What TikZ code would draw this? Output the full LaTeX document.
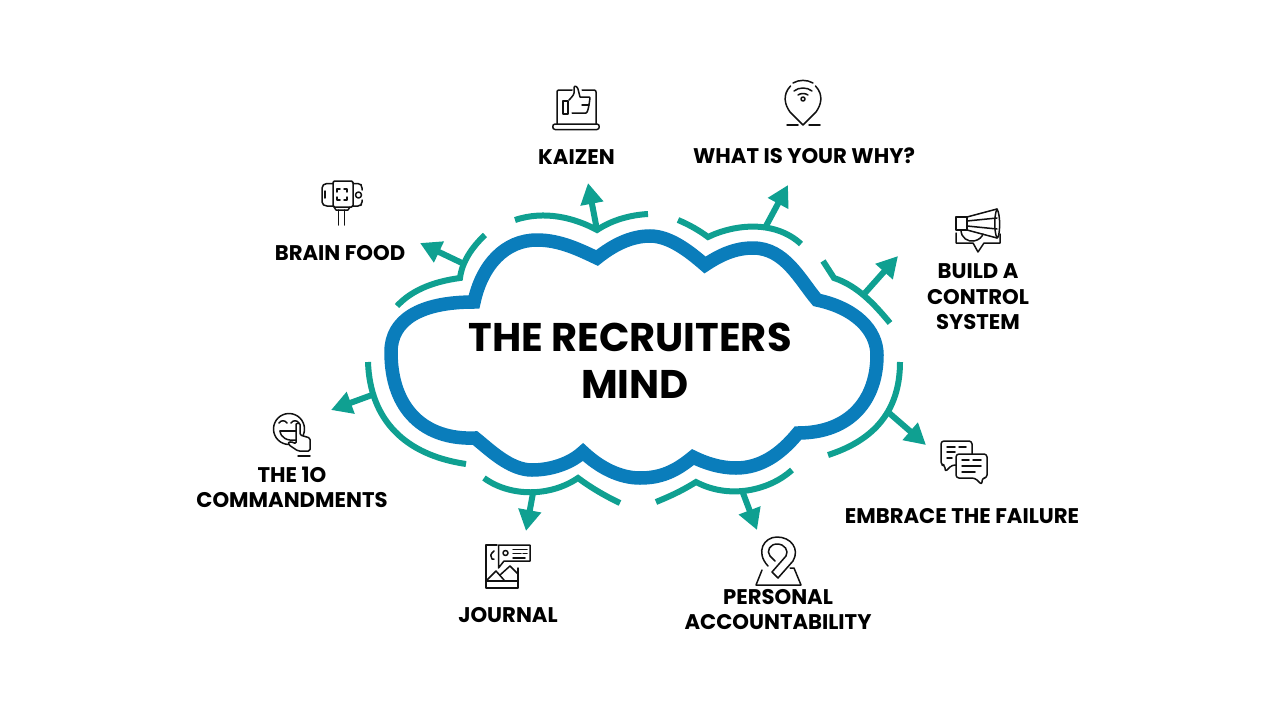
\documentclass[tikz,border=0pt]{standalone}
\usepackage{fontspec}
\setmainfont{Poppins}[BoldFont={Poppins Bold}]
\usetikzlibrary{arrows.meta}
\definecolor{cloudblue}{HTML}{0A7DBB}
\definecolor{tealc}{HTML}{0FA091}
\definecolor{inkc}{HTML}{111111}
\tikzset{
  cloudline/.style={draw=cloudblue,line width=13.5pt,line join=miter,miter limit=10},
  arcline/.style={draw=tealc,line width=6pt,line join=miter,miter limit=10},
  arrowline/.style={draw=tealc,line width=6pt,-{Triangle[length=21pt,width=22pt]}},
  lab/.style={font=\fontsize{21.2}{25.5}\selectfont\bfseries,text=black,align=center,inner sep=0pt},
  ttl/.style={font=\fontsize{40}{48}\selectfont\bfseries,text=black,inner sep=0pt},
  ic/.style={draw=inkc,line width=1.5pt,line join=round,line cap=round},
  icw/.style={ic,fill=white},
}
\begin{document}
\begin{tikzpicture}[x=1pt,y=-1pt]
\useasboundingbox (0,0) rectangle (1280,720);
\fill[white] (0,0) rectangle (1280,720);
% cloud
\draw[cloudline] (474,302)
 .. controls (482,265) and (505,240) .. (537,240)
 .. controls (560,240) and (580,250) .. (597,258)
 .. controls (612,246) and (630,236) .. (650,236)
 .. controls (670,236) and (690,252) .. (705,265)
 .. controls (720,255) and (735,248) .. (753,248)
 .. controls (785,248) and (800,280) .. (817,300)
 .. controls (855,308) and (877,330) .. (877,355)
 .. controls (877,400) and (850,433) .. (798,433)
 .. controls (780,455) and (760,468) .. (736,468)
 .. controls (720,468) and (705,463) .. (693,457)
 .. controls (675,472) and (660,478) .. (640,478)
 .. controls (620,478) and (600,468) .. (583,452)
 .. controls (570,464) and (550,470) .. (532,470)
 .. controls (510,470) and (490,450) .. (475,438)
 .. controls (425,440) and (391,410) .. (391,352)
 .. controls (391,320) and (420,302) .. (474,302) -- cycle;
% teal arcs
\coordinate (aBF) at (462,263); \coordinate (tBF) at (420,243);
\coordinate (aKZ) at (597,230); \coordinate (tKZ) at (588,183);
\coordinate (aWY) at (766,226); \coordinate (tWY) at (788,185);
\coordinate (aBC) at (865,293); \coordinate (tBC) at (898,256);
\coordinate (aEF) at (888,412); \coordinate (tEF) at (926,445);
\coordinate (aPA) at (743,493); \coordinate (tPA) at (757,530);
\coordinate (aJN) at (533,493); \coordinate (tJN) at (526,531);
\coordinate (aTC) at (372,395); \coordinate (tTC) at (331,410);
\draw[arrowline] (aBF) -- (tBF);
\draw[arrowline] (aKZ) -- (tKZ);
\draw[arrowline] (aWY) -- (tWY);
\draw[arrowline] (aBC) -- (tBC);
\draw[arrowline] (aEF) -- (tEF);
\draw[arrowline] (aPA) -- (tPA);
\draw[arrowline] (aJN) -- (tJN);
\draw[arrowline] (aTC) -- (tTC);
\draw[arcline] (485,235) .. controls (472,247) and (462,262) .. (460,278) .. controls (430,282) and (410,292) .. (397,306);
\draw[arcline] (515,220) .. controls (545,210) and (575,218) .. (597,230) .. controls (612,220) and (630,215) .. (648,214);
\draw[arcline] (678,220) .. controls (690,225) and (700,231) .. (708,237) .. controls (735,224) and (775,220) .. (801,244);
\draw[arcline] (823,261) -- (834,278) .. controls (858,286) and (875,305) .. (890,323);
\draw[arcline] (900,362) .. controls (900,410) and (875,440) .. (828,455);
\draw[arcline] (792,470) .. controls (770,490) and (730,500) .. (696,482) .. controls (680,492) and (668,497) .. (656,502);
\draw[arcline] (620,503) .. controls (605,496) and (590,487) .. (578,478) .. controls (550,497) and (510,497) .. (484,478);
\draw[arcline] (368,362) .. controls (370,420) and (405,455) .. (466,464);
% labels
\node[ttl] (title1) at (630,337) {THE RECRUITERS};
\node[ttl] (title2) at (635,384) {MIND};
\node[lab] (kaizen) at (576.5,157) {KAIZEN};
\node[lab] (why) at (804,156) {WHAT IS YOUR WHY?};
\node[lab] (brain) at (340,253) {BRAIN FOOD};
\node[lab] (build) at (978,297) {BUILD A\\CONTROL\\SYSTEM};
\node[lab] (embrace) at (962,516) {EMBRACE THE FAILURE};
\node[lab] (personal) at (778,609.5) {PERSONAL\\ACCOUNTABILITY};
\node[lab] (journal) at (508,615) {JOURNAL};
\node[lab] (cmd) at (292,487.5) {THE 1O\\COMMANDMENTS};
% laptop icon
\draw[ic] (572,90) -- (559,90) .. controls (557.5,90) and (557,91) .. (557,92) -- (557,124);
\draw[ic] (582,90) -- (594,90) .. controls (595.5,90) and (596,91) .. (596,92) -- (596,124);
\draw[ic] (555,124) -- (597,124) .. controls (600,124) and (600,129.5) .. (597,129.5) -- (555,129.5) .. controls (552,129.5) and (552,124) .. (555,124) -- cycle;
\draw[ic] (563,101) rectangle (568,114);
\draw[ic] (572,113) -- (586,113) .. controls (588,113) and (589,105) .. (590,98) .. controls (590,97) and (589,97) .. (588,97) -- (580,97) -- (578,89) .. controls (577,86) and (574,85) .. (574,88) -- (574,93) .. controls (574,95) and (570,99) .. (569,100);
\draw[ic] (582,105) -- (589,105);
% wifi pin icon
\draw[ic] (790.5,86) .. controls (782,95) and (785,105) .. (790,112) -- (803,125) -- (816,112) .. controls (821,105) and (824,95) .. (815.5,86);
\draw[ic] (793,83) .. controls (799,79.5) and (807,79.5) .. (813,83);
\draw[ic] (794,91) .. controls (799,87) and (807,87) .. (812,91);
\draw[ic] (798,95) .. controls (801,93) and (805,93) .. (808,95);
\draw[ic] (803,99) circle (2);
\draw[ic] (787,125) -- (798,125);
\draw[ic] (809,125) -- (820,125);
% selfie icon
\draw[ic,rounded corners=2pt] (333,183.5) -- (325,183.5) -- (322,186) -- (322,204) -- (325,206) -- (333,206);
\draw[ic,rounded corners=2pt] (353,183.5) -- (360,183.5) -- (362,186) -- (362,190);
\draw[ic,rounded corners=2pt] (362,200) -- (362,204) -- (360,206) -- (353,206);
\draw[ic,rounded corners=1.5pt] (333,181) rectangle (353,207);
\draw[ic] (358.5,195) circle (3);
\draw[ic] (334,207) -- (336,210) -- (348,210) -- (350,207);
\draw[ic] (337,192) -- (337,189) -- (340,189);
\draw[ic] (344,189) -- (347,189) -- (347,192);
\draw[ic] (347,197) -- (347,200) -- (344,200);
\draw[ic] (340,200) -- (337,200) -- (337,197);
\draw[ic] (325,191) -- (325,198);
\draw[ic] (338.5,210) -- (338.5,225);
\draw[ic] (344.5,210) -- (344.5,225);
% megaphone icon
\draw[ic] (956,217) rectangle (967,230);
\draw[ic] (967,217) -- (997,209);
\draw[ic] (967,230) -- (997,238);
\draw[ic] (967,221) -- (997,218);
\draw[ic] (967,226) -- (997,229);
\draw[ic] (997,209) .. controls (994,215) and (994,232) .. (997,238) .. controls (1000,238) and (1001,215) .. (997,209);
\draw[ic] (961,230) .. controls (961,238) and (968,242) .. (974,241) .. controls (979,240) and (982,237) .. (983,234);
\draw[ic] (956,233) -- (956,243) -- (973,243) -- (978,252) -- (984,243) -- (1000,243) -- (1000,234);
% chat icon
\draw[icw,rounded corners=3pt] (941,441) -- (972,441) -- (972,465) -- (952,465) -- (945,472) -- (945,465) -- (941,465) -- cycle;
\draw[ic] (947,447) -- (955,447);
\draw[ic] (959,447) -- (966,447);
\draw[ic] (947,452) -- (955,452);
\draw[ic] (947,458) -- (952,458);
\draw[icw,rounded corners=3pt] (956,454) -- (987,454) -- (987,478) -- (982,478) -- (982,485) -- (975,478) -- (956,478) -- cycle;
\draw[ic] (962,460) -- (969,460);
\draw[ic] (973,460) -- (981,460);
\draw[ic] (962,466) -- (981,466);
\draw[ic] (962,472) -- (975,472);
% emoji icon
\draw[ic] (289,429) circle (15.5);
\draw[ic] (279,423) .. controls (281,420) and (285,420) .. (287,423);
\draw[ic] (291,423) .. controls (293,420) and (297,420) .. (299,423);
\draw[ic] (280,431) -- (296,431);
\draw[ic] (280,431) .. controls (281,438) and (287,441) .. (296,440);
\draw[icw,rounded corners=1.5pt] (296,441) -- (296,426) .. controls (296,423) and (300,423) .. (300,426) -- (300,435) -- (310,438) -- (310,451) -- (298,451) -- (289,445) .. controls (288,442) and (291,441) .. (296,444) -- cycle;
\draw[ic] (298,456) -- (310,456);
% journal icon
\draw[ic] (497,545) -- (486,545) -- (486,588) -- (518,588) -- (518,568);
\draw[ic] (486,581) -- (518,581);
\draw[ic] (487,580) -- (496,571) -- (504,580);
\draw[ic] (500,575) -- (510,566) -- (518,574);
\draw[ic] (494,551) .. controls (490,554) and (490,557) .. (492,559) -- (494,559);
\draw[ic] (498.5,545) -- (530,545) -- (530,561) -- (504,561) -- (498.5,568) -- cycle;
\draw[ic] (505.5,553) circle (2.5);
\draw[ic] (513,549.5) -- (527,549.5);
\draw[ic] (513,553.5) -- (521,553.5);
\draw[ic] (523,553.5) -- (527,553.5);
\draw[ic] (513,558) -- (525,558);
% location icon
\draw[ic] (768,566) .. controls (755,552) and (764,537) .. (777,537) .. controls (791,537) and (800,549) .. (793,561) -- (778,578) -- (772,572) -- (786,556) .. controls (789,551) and (785,544) .. (777,544) .. controls (770,544) and (766,551) .. (770,556) -- (775,561);
\draw[ic] (762,570) -- (756,585) -- (801,585) -- (794,568) -- (790,568);
\end{tikzpicture}
\end{document}
